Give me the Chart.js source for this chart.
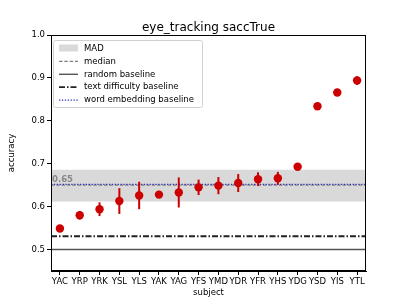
<!DOCTYPE html>
<html><head><meta charset="utf-8">
<script src="https://cdn.jsdelivr.net/npm/chart.js@4/dist/chart.umd.min.js"></script>
<style>html,body{margin:0;padding:0;background:#fff}#wrap{width:407px;height:305px}</style>
</head><body><div id="wrap"><canvas id="c" width="407" height="305"></canvas></div>
<script>
const subjects = ["YAC","YRP","YRK","YSL","YLS","YAK","YAG","YFS","YMD","YDR","YFR","YHS","YDG","YSD","YIS","YTL"];
const accuracy = [0.549,0.580,0.594,0.613,0.626,0.628,0.633,0.645,0.649,0.655,0.664,0.666,0.693,0.834,0.866,0.894];
const errors   = [0.005,0.010,0.016,0.030,0.032,0.006,0.035,0.018,0.020,0.021,0.016,0.015,0.005,0.003,0.003,0.010];
const yTicks = [0.5,0.6,0.7,0.8,0.9,1.0];
const medianValue = 0.650;
const madLow = 0.612, madHigh = 0.686;
const randomBaseline = 0.5;
const textDifficultyBaseline = 0.531;
const wordEmbeddingBaseline = 0.652;
const titleText = "eye_tracking saccTrue";
const xTitle = "subject", yTitle = "accuracy";
const legendLabels = ["MAD","median","random baseline","text difficulty baseline","word embedding baseline"];

const FONT = "'DejaVu Sans', sans-serif";
const RED = "#cc0000";
const XMIN = -0.45, XMAX = subjects.length - 1 + 0.45;

function hline(v, extra) {
  return Object.assign({type:'line', data:[{x:XMIN,y:v},{x:XMAX,y:v}], pointRadius:0, fill:false, tension:0}, extra);
}

const extras = {
  id:'extras',
  afterDatasetsDraw(chart){
    const {ctx, chartArea:a, scales:{x,y}} = chart;
    ctx.save();
    // median label
    ctx.fillStyle = '#888888';
    ctx.font = 'bold 8.5px ' + FONT;
    ctx.textBaseline = 'bottom';
    ctx.textAlign = 'left';
    ctx.fillText(medianValue.toFixed(2), a.left + 1, y.getPixelForValue(medianValue) - 1);
    // error bars
    ctx.strokeStyle = RED; ctx.lineWidth = 2;
    accuracy.forEach((v,i)=>{
      const px = x.getPixelForValue(i);
      ctx.beginPath();
      ctx.moveTo(px, y.getPixelForValue(v - errors[i]));
      ctx.lineTo(px, y.getPixelForValue(v + errors[i]));
      ctx.stroke();
    });
    ctx.restore();
  },
  afterDraw(chart){
    const {ctx, chartArea:a} = chart;
    ctx.save();
    // frame
    ctx.strokeStyle = '#000'; ctx.lineWidth = 1;
    ctx.strokeRect(Math.round(a.left)+0.5, Math.round(a.top)+0.5, Math.round(a.right-a.left)-1, Math.round(a.bottom-a.top)-1);
    // title
    ctx.fillStyle = '#000';
    ctx.font = '12px ' + FONT;
    ctx.textAlign = 'center'; ctx.textBaseline = 'alphabetic';
    ctx.fillText(titleText, (a.left + a.right)/2, 31);
    // axis titles
    ctx.font = '8.5px ' + FONT;
    ctx.textBaseline = 'middle';
    ctx.fillText(xTitle, (a.left + a.right)/2, 293);
    ctx.save();
    ctx.translate(12, (a.top + a.bottom)/2);
    ctx.rotate(-Math.PI/2);
    ctx.fillText(yTitle, 0, 0);
    ctx.restore();
    // legend
    const lx = a.left + 2, ly = a.top + 5, lw = 149, lh = 67;
    ctx.fillStyle = 'rgba(255,255,255,0.8)';
    ctx.strokeStyle = '#d0d0d0'; ctx.lineWidth = 1;
    ctx.beginPath();
    if (ctx.roundRect) ctx.roundRect(lx+0.5, ly+0.5, lw, lh, 2); else ctx.rect(lx+0.5, ly+0.5, lw, lh);
    ctx.fill(); ctx.stroke();
    const hx0 = lx + 6, hx1 = lx + 25, tx = lx + 31;
    ctx.font = '8.5px ' + FONT; ctx.textAlign = 'left'; ctx.textBaseline = 'middle';
    legendLabels.forEach((t,i)=>{
      const yy = ly + 8 + i*12.9;
      ctx.save();
      if (i===0){ ctx.fillStyle = '#d9d9d9'; ctx.fillRect(hx0, yy-3.5, hx1-hx0, 7); }
      else {
        ctx.beginPath();
        if (i===1){ ctx.strokeStyle='#808080'; ctx.lineWidth=1.3; ctx.setLineDash([3.5,1.8]); }
        if (i===2){ ctx.strokeStyle='#555555'; ctx.lineWidth=1.4; }
        if (i===3){ ctx.strokeStyle='#222222'; ctx.lineWidth=1.8; ctx.setLineDash([6,2,1.5,2]); }
        if (i===4){ ctx.strokeStyle='#3333bb'; ctx.lineWidth=1.3; ctx.setLineDash([1.3,1.6]); }
        ctx.moveTo(hx0, yy+0.5); ctx.lineTo(hx1, yy+0.5); ctx.stroke();
      }
      ctx.restore();
      ctx.fillStyle = '#000';
      ctx.fillText(t, tx, yy+0.5);
    });
    ctx.restore();
  }
};

new Chart(document.getElementById('c'), {
  data: {
    datasets: [
      hline(madHigh, {borderWidth:0, borderColor:'rgba(0,0,0,0)', backgroundColor:'#d9d9d9', fill:'+1', order:10}),
      hline(madLow, {borderWidth:0, borderColor:'rgba(0,0,0,0)', order:10}),
      hline(medianValue, {borderColor:'#808080', borderWidth:1.3, borderDash:[3.5,1.8], order:9}),
      hline(randomBaseline, {borderColor:'#555555', borderWidth:1.4, order:8}),
      hline(textDifficultyBaseline, {borderColor:'#222222', borderWidth:1.8, borderDash:[6,2,1.5,2], order:7}),
      hline(wordEmbeddingBaseline, {borderColor:'#3333bb', borderWidth:1.3, borderDash:[1.3,1.6], order:6}),
      {type:'scatter', data: accuracy.map((v,i)=>({x:i,y:v})), pointRadius:4.2, pointBackgroundColor:RED, pointBorderWidth:0, pointBorderColor:RED, order:1}
    ]
  },
  options: {
    responsive:false, animation:false, devicePixelRatio:1,
    layout:{padding:{top:35, right:41, left:0, bottom:0}},
    plugins:{legend:{display:false}, tooltip:{enabled:false}},
    scales:{
      x:{type:'linear', min:XMIN, max:XMAX,
        afterBuildTicks(s){ s.ticks = subjects.map((_,i)=>({value:i})); },
        afterFit(s){ s.height = 34; },
        ticks:{callback:(v)=>subjects[v] ?? '', color:'#000', font:{family:FONT,size:8.5}, maxRotation:0, autoSkip:false, padding:2},
        grid:{display:true, drawOnChartArea:false, tickLength:4, color:'#000', tickWidth:1},
        border:{display:true, color:'#000'}
      },
      y:{type:'linear', min:0.45, max:1.0,
        afterBuildTicks(s){ s.ticks = yTicks.map(v=>({value:v})); },
        afterFit(s){ s.width = 51; },
        ticks:{callback:(v)=>v.toFixed(1), color:'#000', font:{family:FONT,size:8.5}, padding:2},
        grid:{display:true, drawOnChartArea:false, tickLength:4, color:'#000', tickWidth:1},
        border:{display:true, color:'#000'}
      }
    }
  },
  plugins:[extras]
});
</script></body></html>
